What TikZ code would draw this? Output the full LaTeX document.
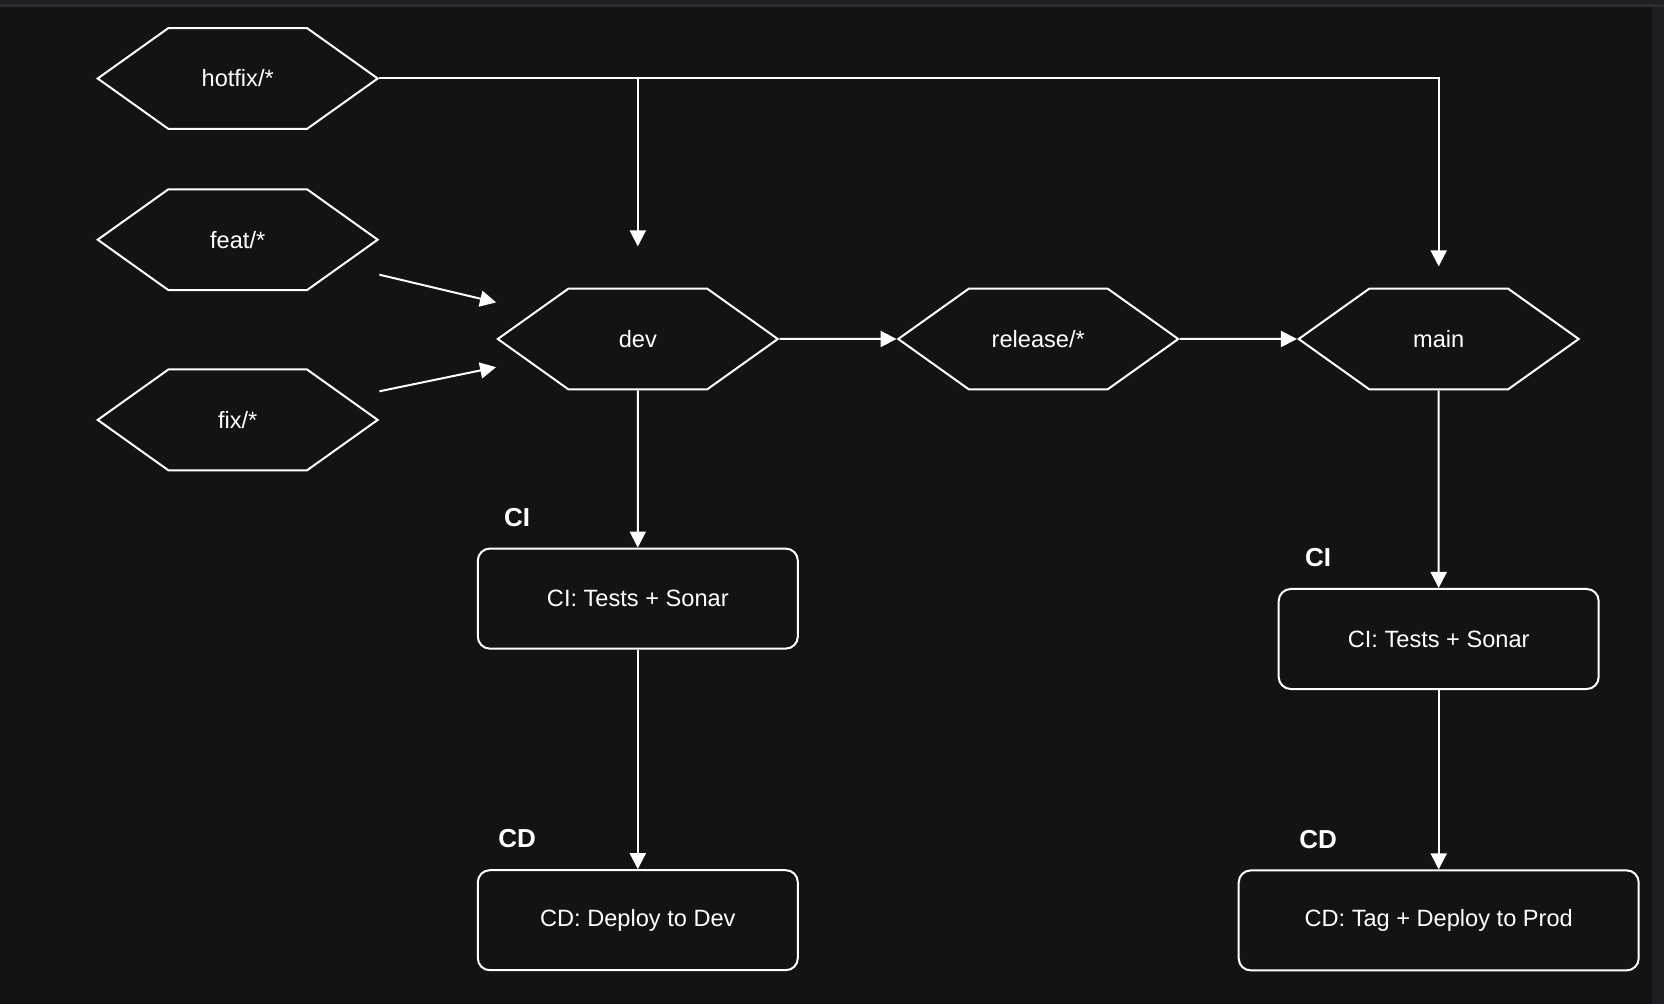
\documentclass[tikz,border=0pt]{standalone}
\usepackage{fontspec}
\setmainfont{Liberation Sans}
\usetikzlibrary{arrows.meta,positioning,shapes.symbols,calc}
\definecolor{canvas}{HTML}{131313}
\definecolor{topbar}{HTML}{1E1F22}
\definecolor{topline}{HTML}{2B2C2F}

\begin{document}
\begin{tikzpicture}[
    x=0.5pt, y=-0.5pt,
    branch/.style={signal, signal to=east and west, signal pointer angle=71, draw=white, line width=1pt, fill=canvas, text=white, font=\fontsize{11.8}{14}\selectfont, minimum width=140pt, minimum height=50.4pt, inner sep=0pt},
    job/.style={rectangle, rounded corners=6pt, draw=white, line width=1pt, fill=canvas, text=white, font=\fontsize{11.8}{14}\selectfont, minimum width=160pt, minimum height=50pt},
    tag/.style={text=white, font=\bfseries\fontsize{13}{15}\selectfont, inner sep=0pt},
    arrow/.style={-{Triangle[length=8pt, width=8pt]}, white, line width=1pt}
  ]
    % canvas
    \fill[canvas] (0,0) rectangle (1664,1004);
    \fill[topbar] (0,0) rectangle (1664,4);
    \fill[topline] (0,4) rectangle (1664,7);
    \fill[topbar] (1652,7) rectangle (1664,1004);
    \useasboundingbox (0,0) rectangle (1664,1004);

    % branches
    \node[branch] (dev) at (637.8,339) {dev};
    \node[branch, right=58.5pt of dev] (rel) {release/*};
    \node[branch, right=58.5pt of rel] (main) {main};
    \node[branch] (hotfix) at (237.7,78.5) {hotfix/*};
    \node[branch, below=29.2pt of hotfix] (feat) {feat/*};
    \node[branch, below=38.7pt of feat] (fix) {fix/*};

    % pipelines
    \node[job, below=78.6pt of dev] (ci1) {CI: Tests + Sonar};
    \node[job, below=109.8pt of ci1] (cd1) {CD: Deploy to Dev};
    \node[job, below=98.8pt of main] (ci2) {CI: Tests + Sonar};
    \node[job, below=89.7pt of ci2, minimum width=200pt] (cd2) {CD: Tag + Deploy to Prod};

    \node[tag, anchor=base] (tci1) at ([xshift=20.2pt, yshift=10.7pt]ci1.north west) {CI};
    \node[tag, anchor=base, yshift=10.7pt] (tcd1) at (tci1.base |- cd1.north) {CD};
    \node[tag, anchor=base] (tci2) at ([xshift=20.2pt, yshift=10.7pt]ci2.north west) {CI};
    \node[tag, anchor=base, yshift=10.7pt] (tcd2) at (tci2.base |- cd2.north) {CD};

    % free ends
    \coordinate (split) at (hotfix.east -| dev.north);
    \coordinate (devtop) at ([yshift=20.6pt]dev.north);
    \coordinate (maintop) at ([yshift=10.6pt]main.north);
    \coordinate (featout) at ([yshift=-17.5pt]feat.east);
    \coordinate (fixout) at ([yshift=14.3pt]fix.east);
    \coordinate (devin1) at ([yshift=18.3pt]dev.west);
    \coordinate (devin2) at ([yshift=-14.1pt]dev.west);

    \draw[arrow] (hotfix.east) -| (maintop);
    \draw[arrow] (split) -- (devtop);
    \draw[arrow] (featout) -- (devin1);
    \draw[arrow] (fixout) -- (devin2);
    \draw[arrow] (dev) -- (rel);
    \draw[arrow] (rel) -- (main);
    \draw[arrow] (dev) -- (ci1);
    \draw[arrow] (ci1) -- (cd1);
    \draw[arrow] (main) -- (ci2);
    \draw[arrow] (ci2) -- (cd2);
\end{tikzpicture}
\end{document}
